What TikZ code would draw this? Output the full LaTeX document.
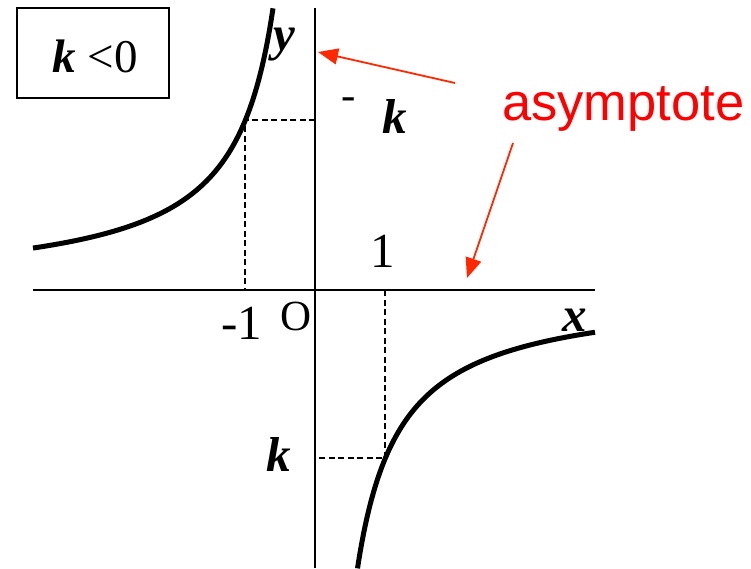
\documentclass[tikz,border=0pt]{standalone}
\usepackage{fontspec}
\setmainfont{Liberation Serif}
\newfontfamily\arialf{Liberation Sans}
\usetikzlibrary{arrows.meta}
\definecolor{arrred}{RGB}{255,40,0}
\definecolor{txtred}{RGB}{255,0,0}
\tikzset{
  axisline/.style={line width=2.4pt},
  curveline/.style={line width=5pt},
  guideline/.style={line width=1.8pt, dash pattern=on 6pt off 3.5pt},
  redarrow/.style={arrred, line width=1.8pt, -{Triangle[length=20pt,width=16pt]}},
  lbl/.style={anchor=base, inner sep=0pt, outer sep=0pt},
  big/.style={font=\fontsize{49}{49}\selectfont},
  mid/.style={font=\fontsize{43}{43}\selectfont},
}
\begin{document}
\begin{tikzpicture}[x=1pt,y=-1pt]
\useasboundingbox (0,0) rectangle (751,568);
% box
\node[draw, line width=1.5pt, minimum width=152pt, minimum height=90pt, inner sep=0pt] (box) at (93,53) {};
\node[lbl, font=\fontsize{47}{47}\selectfont] (klab) at (95,72) {\textbf{\textit{k}} <0};
% axes
\coordinate (yb) at (315,568);
\coordinate (yt) at (315,8);
\coordinate (xl) at (33,290);
\coordinate (xr) at (595,290);
\draw[axisline] (yb) -- (yt);
\draw[axisline] (xl) -- (xr);
% guide points
\coordinate (P1) at (245,120);
\coordinate (P1y) at (315,120);
\coordinate (P1x) at (245,290);
\coordinate (P2) at (385,458);
\coordinate (P2y) at (315,458);
\coordinate (P2x) at (385,290);
\draw[guideline] (P1y) -- (P1) -- (P1x);
\draw[guideline] (P2x) -- (P2) -- (P2y);
% hyperbola branches
\draw[curveline, line cap=butt] plot[domain=42.5:280, samples=120, smooth] ({315+\x},{290+11830/\x});
\draw[curveline, line cap=butt] plot[domain=-282:-42, samples=120, smooth] ({315+\x},{290+11830/\x});
% labels
\node[lbl, big] (ylab) at (284,50) {\textbf{\textit{y}}};
\node[lbl, big] (xlab) at (575,331) {\textbf{\textit{x}}};
\node[lbl, big] (m1) at (242,339) {-1};
\node[lbl, mid] (olab) at (296,330) {O};
\node[lbl, big] (one) at (383,267) {1};
\node[inner sep=0pt, mid] (dash) at (349,104) {-};
\node[lbl, big] (ku) at (395,133) {\textbf{\textit{k}}};
\node[lbl, big] (kl) at (279,471) {\textbf{\textit{k}}};
\node[lbl, anchor=base west, txtred, font=\arialf\fontsize{52.5}{52.5}\selectfont] (asym) at (502,120) {asymptote};
% arrows
\coordinate (a1s) at (455,83);
\coordinate (a1e) at (318,52);
\coordinate (a2s) at (513,143);
\coordinate (a2e) at (467,278);
\draw[redarrow] (a1s) -- (a1e);
\draw[redarrow] (a2s) -- (a2e);
\end{tikzpicture}
\end{document}
